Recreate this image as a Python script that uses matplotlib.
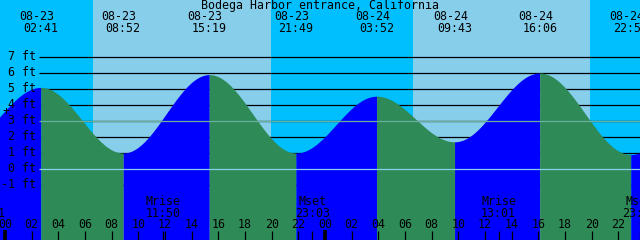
import numpy as np
import matplotlib
matplotlib.use('Agg')
import matplotlib.pyplot as plt

station = "Bodega Harbor entrance, California"

# tide extremes (first and last are off-screen, only used for the curve ends)
tide_times = ["08-22 20:30", "08-23 02:41", "08-23 08:52", "08-23 15:19", "08-23 21:49",
              "08-24 03:52", "08-24 09:43", "08-24 16:06", "08-24 22:56", "08-25 04:45"]
tide_heights = [1.4, 5.1, 1.0, 5.9, 1.0, 4.55, 1.7, 6.0, 0.9, 4.4]

# sunrise / sunset pairs
sun_rise = ["08-23 06:35", "08-24 06:35"]
sun_set = ["08-23 19:57", "08-24 19:52"]

moon_names = ["Mset", "Mrise", "Mset", "Mrise", "Mset"]
moon_times = ["08-22 22:41", "08-23 11:50", "08-23 23:03", "08-24 13:01", "08-24 23:36"]

ft_levels = [-1, 0, 1, 2, 3, 4, 5, 6, 7]
mean_level = 3.0
hour_labels = list(range(0, 49, 2))

day_col = '#87CEEB'
night_col = '#00BFFF'
rise_col = '#0000FF'
fall_col = '#2E8B57'
font = 'DejaVu Sans Mono'
fs = 8.4


def hours(s):
    # hours since 08-23 00:00
    d, hm = s.split()
    day = int(d.split('-')[1])
    h, m = hm.split(':')
    return (day - 23) * 24 + int(h) + int(m) / 60


# pixel helpers (x0 = 5 px at 08-23 00:00, 13.333 px/hour; 0 ft at row 169, 16 px/ft)
def px_x(p):
    return (p - 5) / (40 / 3)


def px_y(r):
    return (169 - r) / 16


fig = plt.figure(figsize=(6.4, 2.4), dpi=100)
ax = fig.add_axes([0, 0, 1, 1])
x0, x1 = px_x(0), px_x(640)
y0, y1 = px_y(240), px_y(0)
ax.set_xlim(x0, x1)
ax.set_ylim(y0, y1)
ax.axis('off')

# day / night background
ax.axvspan(x0, x1, color=night_col, zorder=0, lw=0)
for r, s in zip(sun_rise, sun_set):
    ax.axvspan(hours(r), hours(s), color=day_col, zorder=0.5, lw=0)

# foot lines
ax.hlines(ft_levels, px_x(39), x1, color='black', lw=0.9, zorder=1)
for lv in ft_levels:
    ax.text(px_x(36), lv, f"{lv} ft", ha='right', va='center', family=font, fontsize=fs, zorder=5)

# tide curve
tt = [hours(s) for s in tide_times]
for i in range(len(tt) - 1):
    t = np.linspace(tt[i], tt[i + 1], 80)
    f = (1 - np.cos(np.pi * (t - tt[i]) / (tt[i + 1] - tt[i]))) / 2
    h = tide_heights[i] + (tide_heights[i + 1] - tide_heights[i]) * f
    col = rise_col if tide_heights[i + 1] > tide_heights[i] else fall_col
    ax.fill_between(t, h, y0, color=col, lw=0, zorder=2)

ax.hlines([mean_level], px_x(39), x1, color='#6aae9c', lw=0.9, zorder=3)
ax.hlines([0], px_x(39), x1, color='#87CEEB', lw=0.9, zorder=3)

# extreme labels
for s in tide_times[1:-1]:
    d, hm = s.split()
    x = hours(s)
    ax.text(x - px_x(9) + px_x(5), px_y(17), d, ha='center', va='center', family=font, fontsize=fs, zorder=5)
    ax.text(x, px_y(29), hm, ha='center', va='center', family=font, fontsize=fs, zorder=5)

ax.text(px_x(320), px_y(6), station, ha='center', va='center', family=font, fontsize=fs, zorder=5)
ax.text(px_x(6), px_y(112), '+', ha='center', va='center', family=font, fontsize=fs, zorder=5)

# moon events
for name, s in zip(moon_names, moon_times):
    x = hours(s)
    ax.text(x, px_y(201.5), name, ha='center', va='center', family=font, fontsize=fs, zorder=5)
    ax.text(x, px_y(213.5), s.split()[1], ha='center', va='center', family=font, fontsize=fs, zorder=5)
    ax.vlines(x, px_y(240), px_y(231), color='black', lw=0.9, zorder=5)

# hour axis
for hr in hour_labels:
    ax.text(hr, px_y(225), f"{hr % 24:02d}", ha='center', va='center', family=font, fontsize=fs, zorder=5)
    if hr % 24 == 0:
        ax.vlines(hr, px_y(240), px_y(230), color='black', lw=2.6, zorder=5)
    else:
        ax.vlines(hr, px_y(240), px_y(231), color='black', lw=0.9, zorder=5)

fig.savefig('out.png', dpi=100)
